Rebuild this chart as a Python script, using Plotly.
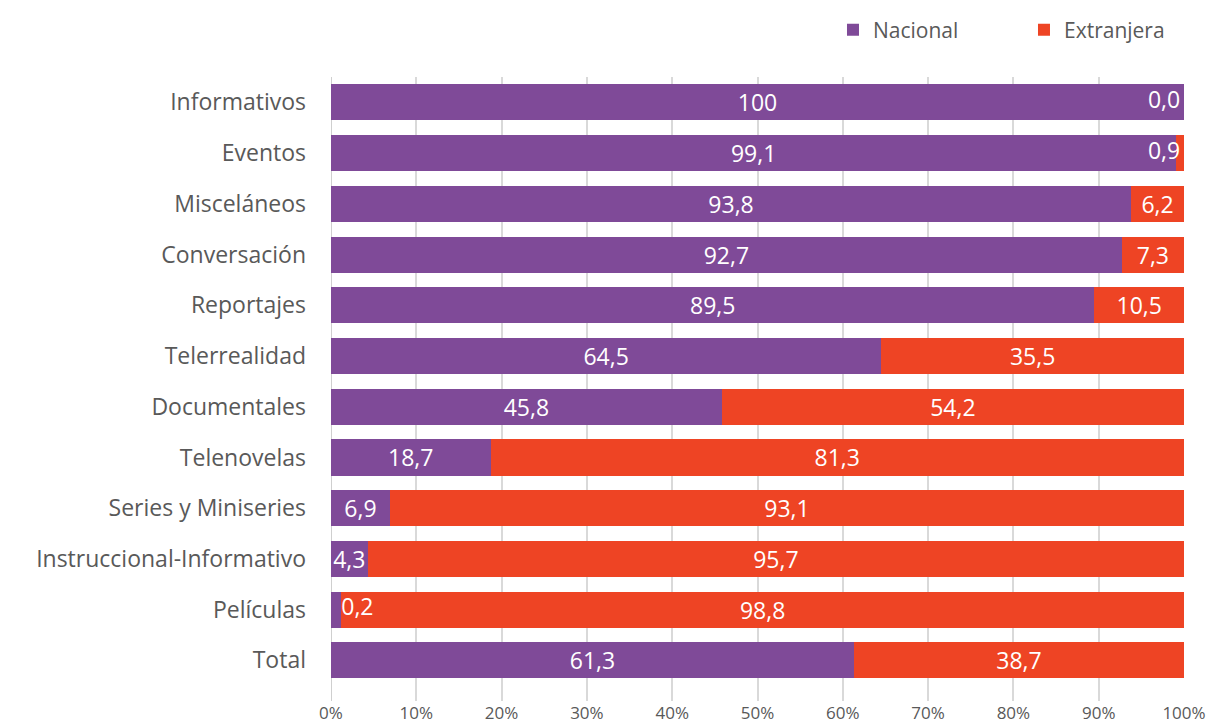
import plotly.graph_objects as go

categories = ["Informativos", "Eventos", "Misceláneos", "Conversación", "Reportajes",
              "Telerrealidad", "Documentales", "Telenovelas", "Series y Miniseries",
              "Instruccional-Informativo", "Películas", "Total"]
nacional = [100, 99.1, 93.8, 92.7, 89.5, 64.5, 45.8, 18.7, 6.9, 4.3, 1.2, 61.3]
extranjera = [0.0, 0.9, 6.2, 7.3, 10.5, 35.5, 54.2, 81.3, 93.1, 95.7, 98.8, 38.7]
nacional_labels = ["100", "99,1", "93,8", "92,7", "89,5", "64,5", "45,8", "18,7", "6,9", "4,3", "0,2", "61,3"]
extranjera_labels = ["0,0", "0,9", "6,2", "7,3", "10,5", "35,5", "54,2", "81,3", "93,1", "95,7", "98,8", "38,7"]
x_ticks = [0, 10, 20, 30, 40, 50, 60, 70, 80, 90, 100]
x_tick_labels = ["0%", "10%", "20%", "30%", "40%", "50%", "60%", "70%", "80%", "90%", "100%"]

PURPLE = "#7F4A98"
RED = "#EE4424"
FONT = "Open Sans"
GREY = "#595959"
SMALL = 2.0  # segments narrower than this get their label drawn beside the segment

nac_in = ["" if v < SMALL else t for v, t in zip(nacional, nacional_labels)]
ext_in = ["" if v < SMALL else t for v, t in zip(extranjera, extranjera_labels)]

# labels for tiny segments, placed next to the segment edge
side_x, side_y, side_t, side_p = [], [], [], []
for c, n, e, tn, te in zip(categories, nacional, extranjera, nacional_labels, extranjera_labels):
    if n < SMALL:
        side_x.append(n); side_y.append(c); side_t.append(tn); side_p.append("middle right")
    if e < SMALL:
        side_x.append(n + e); side_y.append(c); side_t.append(te + "\u2009"); side_p.append("middle left")

fig = go.Figure()
fig.add_trace(go.Bar(
    y=categories, x=nacional, orientation="h", name="Nacional",
    marker=dict(color=PURPLE, line=dict(width=0)),
    text=nac_in, textposition="inside", insidetextanchor="middle",
    textangle=0, constraintext="none",
    textfont=dict(family=FONT, size=23, color="white"),
    hoverinfo="skip",
))
fig.add_trace(go.Bar(
    y=categories, x=extranjera, orientation="h", name="Extranjera",
    marker=dict(color=RED, line=dict(width=0)),
    text=ext_in, textposition="inside", insidetextanchor="middle",
    textangle=0, constraintext="none",
    textfont=dict(family=FONT, size=23, color="white"),
    hoverinfo="skip",
))
fig.add_trace(go.Scatter(
    y=side_y, x=side_x, mode="text", text=side_t, textposition=side_p,
    textfont=dict(family=FONT, size=23, color="white"),
    showlegend=False, hoverinfo="skip", cliponaxis=False,
))

fig.update_layout(
    barmode="stack",
    bargap=0.29,
    width=1207, height=726,
    margin=dict(l=331, r=23, t=77, b=25, autoexpand=False),
    paper_bgcolor="white", plot_bgcolor="white",
    font=dict(family=FONT, color=GREY),
    uniformtext=dict(minsize=23, mode="show"),
    legend=dict(orientation="h", x=0.5885, xanchor="left", y=1.075, yanchor="middle",
                font=dict(family=FONT, size=21, color=GREY),
                entrywidth=146, entrywidthmode="pixels",
                traceorder="normal", bgcolor="rgba(0,0,0,0)"),
    xaxis=dict(range=[0, 100], tickvals=x_ticks, ticktext=x_tick_labels,
               showgrid=True, gridcolor="#D9D9D9", gridwidth=1.5,
               zeroline=False, showline=False, automargin=False,
               tickfont=dict(family=FONT, size=17, color=GREY), ticks=""),
    yaxis=dict(categoryorder="array", categoryarray=categories,
               range=[11.8, -0.5], showgrid=False, zeroline=False,
               showline=False, ticks="", ticklabelstandoff=24, automargin=False,
               tickfont=dict(family=FONT, size=23, color=GREY)),
    shapes=[dict(type="line", xref="x", yref="paper", x0=0, x1=0, y0=0, y1=1,
                 line=dict(color="#BFBFBF", width=1.5), layer="below")],
)

fig.write_html("out.html",
               config={"displayModeBar": False},
               post_script="document.body.style.margin='0';document.body.style.overflow='hidden';")
